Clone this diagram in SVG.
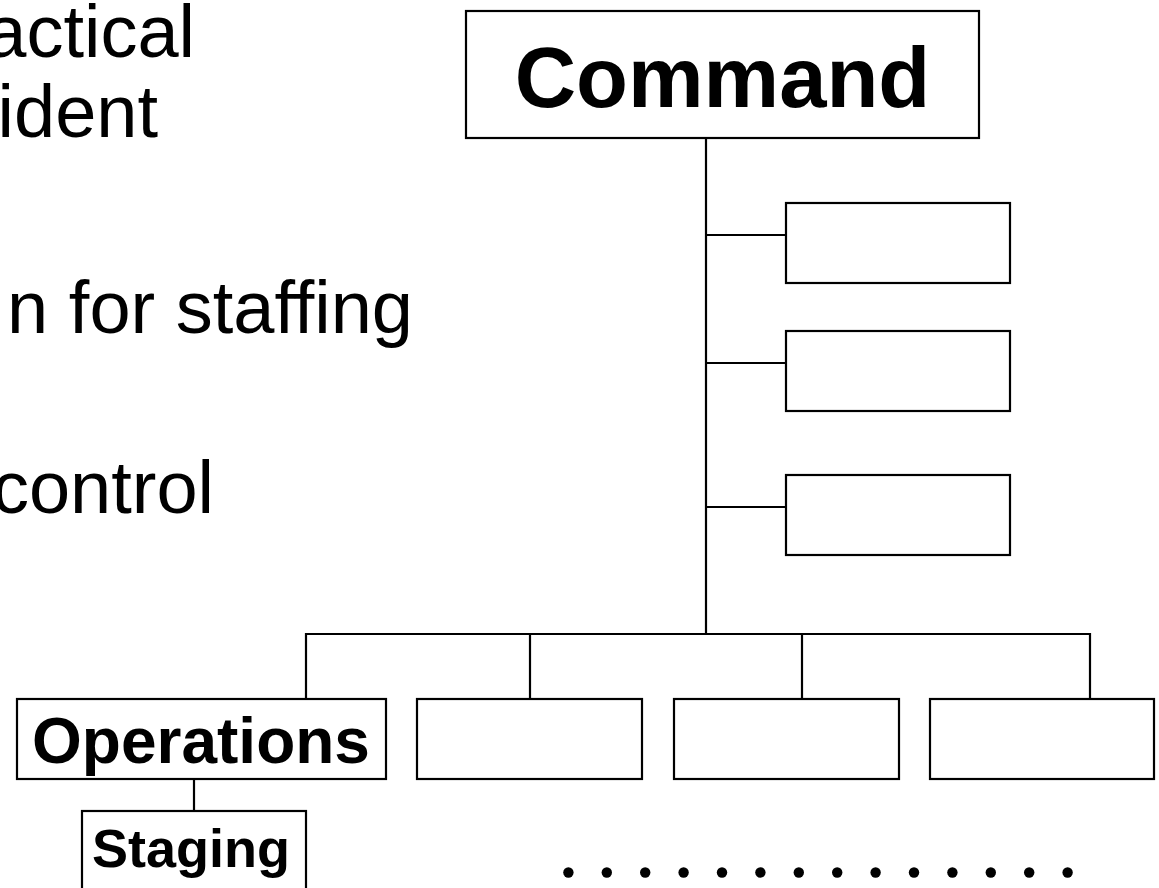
<svg xmlns="http://www.w3.org/2000/svg" width="1159" height="888" viewBox="0 0 1159 888">
  <style>
    .box { fill: #ffffff; stroke: #000000; stroke-width: 2.2; }
    .wire { fill: none; stroke: #000000; stroke-width: 2.2; }
    .body { font-family: "Liberation Sans", Arial, sans-serif; font-size: 74px; fill: #000000; }
    .label { font-family: "Liberation Sans", Arial, sans-serif; font-weight: bold; fill: #000000; }
    .dot { fill: #000000; }
  </style>
  <rect x="0" y="0" width="1159" height="888" fill="#ffffff"/>

  <!-- slide text, clipped at the left edge -->
  <g id="bullet-text">
    <text class="body" x="195" y="57" text-anchor="end">actical</text>
    <text class="body" x="158" y="137" text-anchor="end">ident</text>
    <text class="body" x="413" y="333" text-anchor="end">n for staffing</text>
    <text class="body" x="214" y="513" text-anchor="end">control</text>
  </g>

  <!-- organisation chart wiring -->
  <g id="connectors">
    <path class="wire" d="M706 138 V633"/>
    <path class="wire" d="M706 235 H786"/>
    <path class="wire" d="M706 363 H786"/>
    <path class="wire" d="M706 507 H786"/>
    <path class="wire" d="M306 699 V634 H1090 V699"/>
    <path class="wire" d="M530 634 V699"/>
    <path class="wire" d="M802 634 V699"/>
    <path class="wire" d="M194 779 V811"/>
  </g>

  <g id="command">
    <rect class="box" x="466" y="11" width="513" height="127"/>
    <text class="label" x="722.5" y="107" font-size="85" text-anchor="middle">Command</text>
  </g>

  <g id="staff-1"><rect class="box" x="786" y="203" width="224" height="80"/></g>
  <g id="staff-2"><rect class="box" x="786" y="331" width="224" height="80"/></g>
  <g id="staff-3"><rect class="box" x="786" y="475" width="224" height="80"/></g>

  <g id="operations">
    <rect class="box" x="17" y="699" width="369" height="80"/>
    <text class="label" x="201" y="763" font-size="64" text-anchor="middle">Operations</text>
  </g>
  <g id="section-2"><rect class="box" x="417" y="699" width="225" height="80"/></g>
  <g id="section-3"><rect class="box" x="674" y="699" width="225" height="80"/></g>
  <g id="section-4"><rect class="box" x="930" y="699" width="224" height="80"/></g>

  <g id="staging">
    <rect class="box" x="82" y="811" width="224" height="100"/>
    <text class="label" x="191" y="867" font-size="54" text-anchor="middle">Staging</text>
  </g>

  <!-- continuation dots -->
  <g id="ellipsis">
    <circle class="dot" cx="568.4" cy="872.5" r="5.2"/>
    <circle class="dot" cx="606.8" cy="872.5" r="5.2"/>
    <circle class="dot" cx="645.2" cy="872.5" r="5.2"/>
    <circle class="dot" cx="683.6" cy="872.5" r="5.2"/>
    <circle class="dot" cx="722.0" cy="872.5" r="5.2"/>
    <circle class="dot" cx="760.4" cy="872.5" r="5.2"/>
    <circle class="dot" cx="798.8" cy="872.5" r="5.2"/>
    <circle class="dot" cx="837.2" cy="872.5" r="5.2"/>
    <circle class="dot" cx="875.6" cy="872.5" r="5.2"/>
    <circle class="dot" cx="914.0" cy="872.5" r="5.2"/>
    <circle class="dot" cx="952.4" cy="872.5" r="5.2"/>
    <circle class="dot" cx="990.8" cy="872.5" r="5.2"/>
    <circle class="dot" cx="1029.2" cy="872.5" r="5.2"/>
    <circle class="dot" cx="1067.6" cy="872.5" r="5.2"/>
  </g>
</svg>
